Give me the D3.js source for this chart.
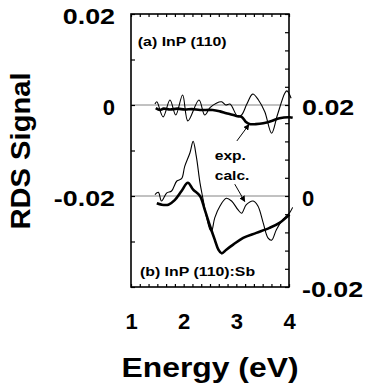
<html>
<head>
  <title></title>
  <script src="https://d3js.org/d3.v7.min.js"></script>
  <style type="text/css">
  body { margin: 0; background: #fff; }
  text {
    font-family: "Liberation Sans", Arial, Helvetica, sans-serif;
    font-weight: bold;
  }
  </style>
</head>
<body>
  <div id="viz"></div>

<script type="text/javascript">

const W = 367, H = 388;
const margin = {top: 14, right: 78, bottom: 101, left: 131};

// x ticks every 1/6 eV, labels on whole numbers
const xTicks = d3.range(0, 19).map(i => 1 + i / 6);
const leftTicks = [-0.04, -0.03, -0.02, -0.01, 0, 0.01, 0.02];
const rightTicks = d3.range(0, 16).map(i => +(-0.02 + i * 0.004).toFixed(3));
const labelledY = [-0.02, 0, 0.02];

// (a) InP(110), read against the left axis
const aCalcE = [1.455, 1.49, 1.61, 1.74, 1.85, 1.98, 2.08, 2.29, 2.40, 2.50, 2.62, 2.72, 2.80, 2.88, 3.03, 3.10, 3.20, 3.31, 3.42, 3.54, 3.67, 3.78, 3.92, 3.96, 4.04];
const aCalcV = [0.0002, 0.0007, -0.0026, 0.0011, -0.0022, 0.0022, -0.0035, 0.0011, -0.0022, -0.0006, 0.0004, 0.0007, 0.0, 0.0002, -0.0026, -0.0022, 0.0002, 0.0024, 0.0011, -0.0015, -0.0062, -0.0022, 0.0026, 0.0031, 0.0015];
const aExpE = [1.47, 1.55, 1.62, 1.74, 1.88, 2.02, 2.16, 2.31, 2.55, 2.69, 2.81, 3.00, 3.10, 3.19, 3.25, 3.37, 3.51, 3.67, 3.82, 4.01, 4.07];
const aExpV = [-0.0007, -0.0011, -0.0008, -0.001, -0.0008, -0.001, -0.0009, -0.0011, -0.0011, -0.0014, -0.0018, -0.0024, -0.0026, -0.0038, -0.0042, -0.0042, -0.004, -0.0035, -0.0029, -0.0027, -0.0028];

// (b) InP(110):Sb, read against the right axis
const bCalcE = [1.455, 1.52, 1.58, 1.68, 1.77, 1.87, 1.96, 2.02, 2.12, 2.18, 2.24, 2.31, 2.37, 2.43, 2.50, 2.53, 2.59, 2.69, 2.81, 2.91, 3.03, 3.10, 3.19, 3.32, 3.41, 3.51, 3.60, 3.67, 3.76, 3.88, 4.01, 4.07];
const bCalcV = [0.0003, 0.0008, -0.0011, 0.0007, 0.0011, 0.0033, 0.0038, 0.0065, 0.0095, 0.012, 0.0087, 0.0029, -0.0008, -0.0044, -0.0074, -0.0077, -0.0048, -0.0022, -0.0005, -0.0011, -0.003, -0.0038, -0.0019, -0.0011, -0.0022, -0.0059, -0.0092, -0.0097, -0.0074, -0.0052, -0.0037, -0.0025];
const bExpE = [1.49, 1.58, 1.71, 1.83, 1.96, 2.08, 2.18, 2.31, 2.40, 2.50, 2.59, 2.66, 2.72, 2.81, 2.94, 3.13, 3.38, 3.63, 3.82, 4.01];
const bExpV = [-0.0016, -0.0019, -0.0019, -0.0009, 0.0011, 0.0029, 0.0014, 0.0, -0.003, -0.0066, -0.0096, -0.0118, -0.0126, -0.0118, -0.0107, -0.0092, -0.0081, -0.007, -0.0059, -0.0041];

const x = d3.scaleLinear().domain([1, 4]).range([margin.left, W - margin.right]);
const yL = d3.scaleLinear().domain([-0.04, 0.02]).range([H - margin.bottom, margin.top]);
const yR = d3.scaleLinear().domain([-0.02, 0.04]).range([H - margin.bottom, margin.top]);

const svg = d3.select("#viz")
  .append("svg")
  .attr("width", W)
  .attr("height", H);

const yFmt = d => labelledY.some(v => Math.abs(v - d) < 1e-9) ? (d === 0 ? "0" : d.toFixed(2)) : "";

// widen multi character labels like in the original
function widen(sel, k) {
  sel.each(function() {
    if (this.textContent.length > 1) {
      d3.select(this)
        .attr("textLength", this.getComputedTextLength() * k)
        .attr("lengthAdjust", "spacingAndGlyphs");
    }
  });
}

function styleAxis(g) {
  g.attr("font-size", 22).attr("font-family", null);
  g.select(".domain").remove();
  g.selectAll(".tick line").attr("stroke", "#000").attr("stroke-width", 1.2);
  g.selectAll(".tick text").attr("fill", "#000");
}

// baselines
svg.append("line")
  .attr("x1", x(1)).attr("x2", x(4))
  .attr("y1", yL(0)).attr("y2", yL(0))
  .attr("stroke", "#666").attr("stroke-width", 0.8);
svg.append("line")
  .attr("x1", x(1)).attr("x2", x(4))
  .attr("y1", yR(0)).attr("y2", yR(0))
  .attr("stroke", "#666").attr("stroke-width", 0.8);

// axes
svg.append("g")
  .attr("transform", `translate(0,${margin.top})`)
  .call(d3.axisTop(x).tickValues(xTicks).tickSize(-3).tickFormat(""))
  .call(styleAxis);

const bottom = svg.append("g")
  .attr("transform", `translate(0,${H - margin.bottom})`)
  .call(d3.axisBottom(x).tickValues(xTicks).tickSize(-3).tickPadding(26)
    .tickFormat(d => Math.abs(d - Math.round(d)) < 1e-9 ? Math.round(d) : ""))
  .call(styleAxis);

const left = svg.append("g")
  .attr("transform", `translate(${margin.left},0)`)
  .call(d3.axisLeft(yL).tickValues(leftTicks).tickSize(-4).tickPadding(16).tickFormat(yFmt))
  .call(styleAxis);
left.selectAll(".tick text").attr("dy", "0.42em").call(widen, 1.22);

const right = svg.append("g")
  .attr("transform", `translate(${W - margin.right},0)`)
  .call(d3.axisRight(yR).tickValues(rightTicks).tickSize(-4).tickPadding(13).tickFormat(yFmt))
  .call(styleAxis);
right.selectAll(".tick text").attr("dy", "0.42em").call(widen, 1.22);

// frame
svg.append("rect")
  .attr("x", x(1)).attr("y", margin.top)
  .attr("width", x(4) - x(1)).attr("height", H - margin.bottom - margin.top)
  .attr("fill", "none").attr("stroke", "#000").attr("stroke-width", 1.6);

// curves
function curve(es, vs, y, width) {
  const line = d3.line()
    .x(d => x(d[0]))
    .y(d => y(d[1]))
    .curve(d3.curveCatmullRom.alpha(0.5));
  svg.append("path")
    .attr("d", line(es.map((e, i) => [e, vs[i]])))
    .attr("fill", "none")
    .attr("stroke", "#000")
    .attr("stroke-width", width)
    .attr("stroke-linejoin", "round");
}

curve(aCalcE, aCalcV, yL, 1.1);
curve(aExpE, aExpV, yL, 2.6);
curve(bCalcE, bCalcV, yR, 1.1);
curve(bExpE, bExpV, yR, 2.6);

// arrows
svg.append("defs").append("marker")
  .attr("id", "head")
  .attr("viewBox", "0 0 10 10")
  .attr("refX", 9).attr("refY", 5)
  .attr("markerWidth", 6).attr("markerHeight", 6)
  .attr("markerUnits", "userSpaceOnUse")
  .attr("orient", "auto")
  .append("path")
  .attr("d", "M0,0L10,5L0,10z")
  .attr("fill", "#000");

svg.append("line")
  .attr("x1", x(3.01)).attr("y1", yL(-0.0079))
  .attr("x2", x(3.24)).attr("y2", yL(-0.0043))
  .attr("stroke", "#000").attr("stroke-width", 1)
  .attr("marker-end", "url(#head)");

svg.append("line")
  .attr("x1", x(2.97)).attr("y1", yR(0.0026))
  .attr("x2", x(3.16)).attr("y2", yR(-0.0012))
  .attr("stroke", "#000").attr("stroke-width", 1)
  .attr("marker-end", "url(#head)");

// annotations
svg.append("text")
  .attr("x", x(2.59)).attr("y", yL(-0.0121))
  .attr("font-size", 13)
  .text("exp.")
  .call(widen, 1.2);

svg.append("text")
  .attr("x", x(2.59)).attr("y", yL(-0.0165))
  .attr("font-size", 13)
  .text("calc.")
  .call(widen, 1.2);

svg.append("text")
  .attr("x", x(1.13)).attr("y", yL(0.013))
  .attr("font-size", 13)
  .text("(a) InP (110)")
  .call(widen, 1.22);

svg.append("text")
  .attr("x", x(1.17)).attr("y", yL(-0.0376))
  .attr("font-size", 13)
  .text("(b) InP (110):Sb")
  .call(widen, 1.22);

// axis titles
svg.append("text")
  .attr("x", 210).attr("y", 377)
  .attr("text-anchor", "middle")
  .attr("font-size", 27)
  .text("Energy (eV)")
  .call(widen, 1.18);

svg.append("text")
  .attr("transform", "translate(30,151) rotate(-90)")
  .attr("text-anchor", "middle")
  .attr("font-size", 27)
  .text("RDS Signal")
  .call(widen, 1.08);

</script>
</body>
</html>
